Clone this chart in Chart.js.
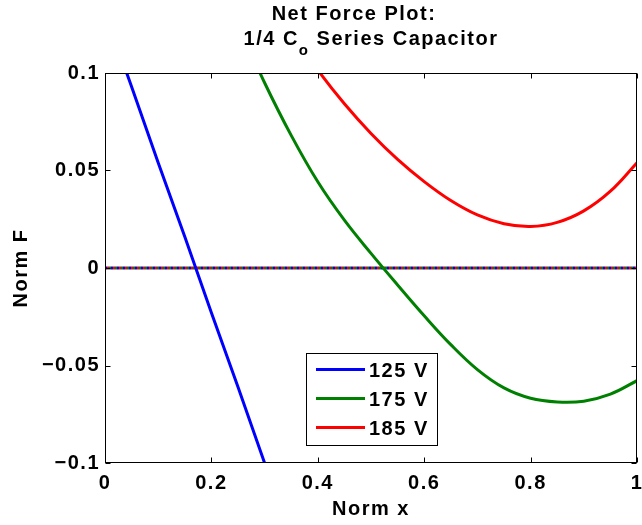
<!DOCTYPE html>
<html>
<head>
<meta charset="utf-8">
<script src="https://cdn.jsdelivr.net/npm/chart.js@4.4.1/dist/chart.umd.min.js"></script>
<style>
  html, body { margin: 0; padding: 0; background: #fff; }
  canvas { display: block; }
</style>
</head>
<body>
<canvas id="c" width="642" height="525"></canvas>
<script>
// Normalised net force vs normalised displacement for three drive voltages
const seriesLabels = ['125 V', '175 V', '185 V'];
const seriesColors = ['#0000ff', '#008000', '#ff0000'];

const x125 = [0, 0.05, 0.10, 0.15, 0.20, 0.25, 0.30, 0.35];
const f125 = [0.131, 0.093, 0.054, 0.016, -0.023, -0.061, -0.100, -0.138];

const x175 = [0.25, 0.30, 0.35, 0.40, 0.45, 0.50, 0.55, 0.60, 0.65, 0.70, 0.75, 0.80, 0.85, 0.90, 0.95, 1.00];
const f175 = [0.125, 0.095, 0.068, 0.0442, 0.0245, 0.0075, -0.0087, -0.0245, -0.0393, -0.0521, -0.0615, -0.0668, -0.0687, -0.0683, -0.0647, -0.0578];

const x185 = [0.35, 0.40, 0.45, 0.50, 0.55, 0.60, 0.65, 0.70, 0.75, 0.80, 0.85, 0.90, 0.95, 1.00];
const f185 = [0.121, 0.1015, 0.0842, 0.069, 0.0557, 0.0443, 0.0346, 0.0272, 0.0227, 0.0213, 0.0234, 0.0293, 0.0394, 0.054];

// zero-force reference line
const xZero = [0, 1];
const fZero = [0, 0];

const xTicks = [0, 0.2, 0.4, 0.6, 0.8, 1];
const xTickLabels = ['0', '0.2', '0.4', '0.6', '0.8', '1'];
const yTicks = [-0.1, -0.05, 0, 0.05, 0.1];
const yTickLabels = ['\u22120.1', '\u22120.05', '0', '0.05', '0.1'];

const titleLine1 = 'Net Force Plot:';
const titleLine2a = '1/4 C';
const titleSub = 'o';
const titleLine2b = ' Series Capacitor';
const xTitle = 'Norm x';
const yTitle = 'Norm F';

const FAMILY = '"Liberation Sans", Arial, sans-serif';
const FONT = 'bold 20px ' + FAMILY;
const SPACING = '1.5px';

const pts = (xs, ys) => xs.map((x, i) => ({ x: x, y: ys[i] }));

const curves = [[x125, f125], [x175, f175], [x185, f185]].map((d, i) => ({
  label: seriesLabels[i],
  data: pts(d[0], d[1]),
  borderColor: seriesColors[i],
  borderWidth: 3,
  tension: i === 0 ? 0 : 0.4,
  pointRadius: 0,
  order: 1
}));

const zeroLines = seriesColors.map((c, i) => ({
  label: '',
  data: pts(xZero, fZero),
  borderColor: c,
  borderWidth: 3,
  borderDash: [2, 4],
  borderDashOffset: i * 2,
  pointRadius: 0,
  order: 2
}));

// text spacing for all canvas text
const spacingPlugin = {
  id: 'spacing',
  beforeUpdate(chart) { chart.ctx.letterSpacing = SPACING; },
  beforeDraw(chart) { chart.ctx.letterSpacing = SPACING; }
};

// box, inward ticks, titles and the in-plot legend
const framePlugin = {
  id: 'frame',
  afterDatasetsDraw(chart) {
    const ctx = chart.ctx;
    const a = chart.chartArea;
    const xs = chart.scales.x, ys = chart.scales.y;
    ctx.save();
    ctx.letterSpacing = SPACING;
    ctx.strokeStyle = '#000';
    ctx.lineWidth = 1;
    const L = Math.round(a.left) + 0.5, R = Math.round(a.right) - 0.5;
    const T = Math.round(a.top) + 0.5, B = Math.round(a.bottom) - 0.5;
    ctx.strokeRect(L, T, R - L, B - T);
    const tl = 5;
    ctx.beginPath();
    xTicks.forEach(v => {
      const p = Math.round(xs.getPixelForValue(v)) + 0.5;
      ctx.moveTo(p, B); ctx.lineTo(p, B - tl);
      ctx.moveTo(p, T); ctx.lineTo(p, T + tl);
    });
    yTicks.forEach(v => {
      const p = Math.round(ys.getPixelForValue(v)) + 0.5;
      ctx.moveTo(L, p); ctx.lineTo(L + tl, p);
      ctx.moveTo(R, p); ctx.lineTo(R - tl, p);
    });
    ctx.stroke();

    // legend
    const lx = 306, ly = 353, lw = 131, lh = 92;
    ctx.fillStyle = '#fff';
    ctx.fillRect(lx, ly, lw, lh);
    ctx.strokeStyle = '#000';
    ctx.strokeRect(lx + 0.5, ly + 0.5, lw, lh);
    ctx.font = FONT;
    ctx.textAlign = 'left';
    ctx.textBaseline = 'alphabetic';
    seriesLabels.forEach((lab, i) => {
      const yy = 369.5 + i * 29;
      ctx.strokeStyle = seriesColors[i];
      ctx.lineWidth = 3;
      ctx.beginPath();
      ctx.moveTo(316, yy); ctx.lineTo(365, yy);
      ctx.stroke();
      ctx.fillStyle = '#000';
      ctx.fillText(lab, 369, yy + 7.5);
    });

    // titles
    ctx.fillStyle = '#000';
    ctx.font = FONT;
    ctx.textAlign = 'center';
    ctx.fillText(titleLine1, 354, 20);
    const cx = (a.left + a.right) / 2;
    const subFont = 'bold 15px ' + FAMILY;
    const w1 = ctx.measureText(titleLine2a).width;
    const w3 = ctx.measureText(titleLine2b).width;
    ctx.font = subFont;
    const w2 = ctx.measureText(titleSub).width;
    const start = cx - (w1 + w2 + w3) / 2;
    ctx.textAlign = 'left';
    ctx.font = FONT;
    ctx.fillText(titleLine2a, start, 45);
    ctx.font = subFont;
    ctx.fillText(titleSub, start + w1, 55);
    ctx.font = FONT;
    ctx.fillText(titleLine2b, start + w1 + w2, 45);

    ctx.textAlign = 'center';
    ctx.textBaseline = 'middle';
    ctx.fillText(xTitle, cx, 509);
    ctx.translate(21, (a.top + a.bottom) / 2);
    ctx.rotate(-Math.PI / 2);
    ctx.fillText(yTitle, 0, 0);
    ctx.restore();
  }
};

const tickFont = { family: FAMILY, size: 20, weight: 'bold' };

new Chart(document.getElementById('c'), {
  type: 'line',
  data: { datasets: curves.concat(zeroLines) },
  options: {
    responsive: false,
    animation: false,
    devicePixelRatio: 1,
    layout: { padding: { top: 73, right: 5, left: 0, bottom: 0 } },
    plugins: { legend: { display: false }, tooltip: { enabled: false }, title: { display: false } },
    scales: {
      x: {
        type: 'linear', min: 0, max: 1,
        afterBuildTicks: s => { s.ticks = xTicks.map(v => ({ value: v })); },
        ticks: { callback: (v, i) => xTickLabels[i], font: tickFont, color: '#000', padding: 8, maxRotation: 0, autoSkip: false },
        grid: { display: false, drawTicks: false },
        border: { display: false },
        afterFit: s => { s.height = 62; s.paddingLeft = 0; s.paddingRight = 0; }
      },
      y: {
        type: 'linear', min: -0.1, max: 0.1,
        afterBuildTicks: s => { s.ticks = yTicks.map(v => ({ value: v })); },
        ticks: { callback: (v, i) => yTickLabels[i], font: tickFont, color: '#000', padding: 5, autoSkip: false },
        grid: { display: false, drawTicks: false },
        border: { display: false },
        afterFit: s => { s.width = 105; s.paddingTop = 0; s.paddingBottom = 0; }
      }
    }
  },
  plugins: [spacingPlugin, framePlugin]
});
</script>
</body>
</html>
